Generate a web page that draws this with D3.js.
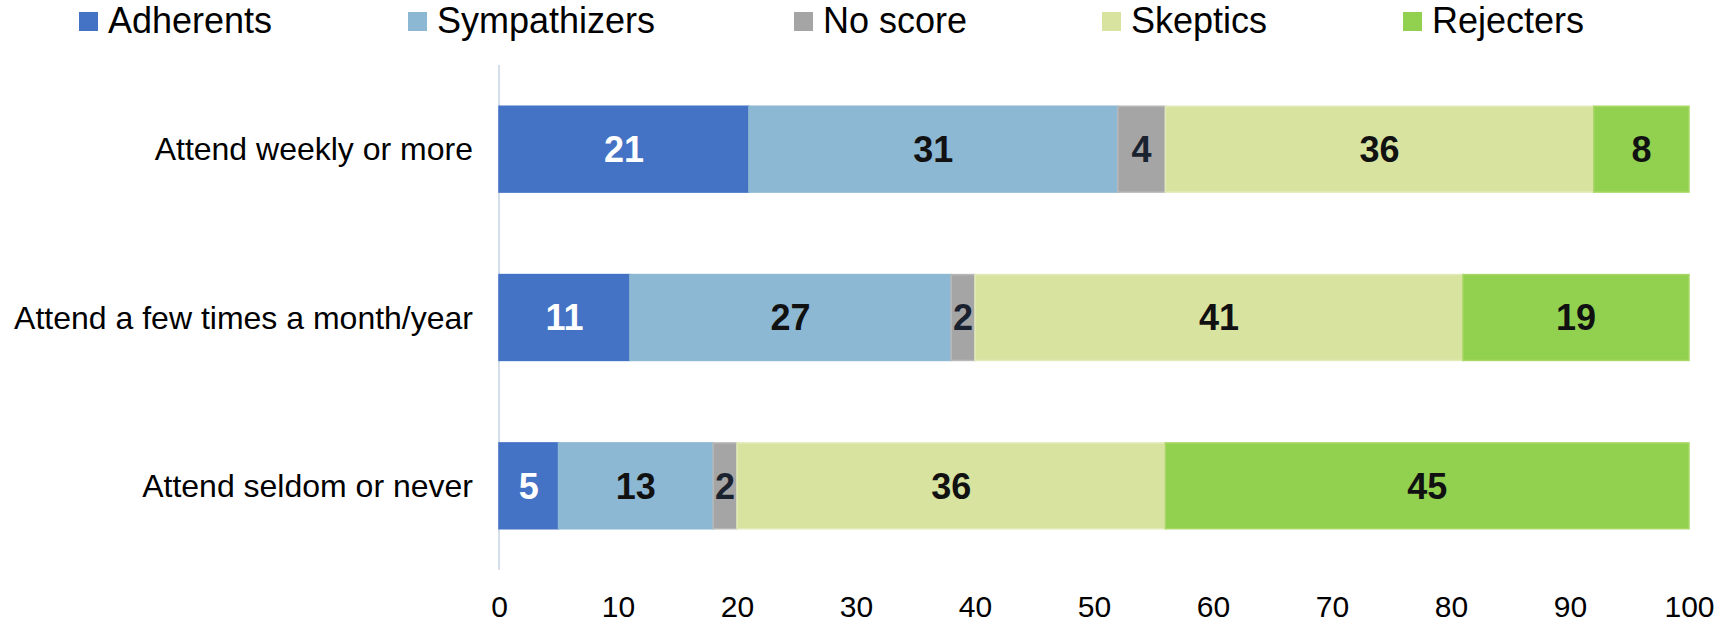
<!DOCTYPE html>
<html>
<head>
<meta charset="utf-8">
<script src="https://cdn.jsdelivr.net/npm/d3@7"></script>
<style>
  html, body { margin: 0; padding: 0; background: #fff; }
  svg { display: block; font-family: "Liberation Sans", Arial, sans-serif; }
</style>
</head>
<body>
<svg id="chart" width="1732" height="624"></svg>
<script>
// ---- data ----
const categories = ["Attend weekly or more", "Attend a few times a month/year", "Attend seldom or never"];
const seriesNames = ["Adherents", "Sympathizers", "No score", "Skeptics", "Rejecters"];
const adherents    = [21, 11, 5];
const sympathizers = [31, 27, 13];
const noScore      = [4, 2, 2];
const skeptics     = [36, 41, 36];
const rejecters    = [8, 19, 45];
const xTicks = [0, 10, 20, 30, 40, 50, 60, 70, 80, 90, 100];

// ---- styles / layout ----
const colors = ["#4472C4", "#8DB8D3", "#A5A5A5", "#D8E3A0", "#92D050"];
const strokes = ["#4472C4", "#8DB8D3", "#B8B8B8", "#E3EAB9", "#A9D866"];
const labelColors = ["#ffffff", "#111111", "#1a2230", "#111111", "#111111"];
const legendX = [79, 408, 794, 1102, 1403];

const svg = d3.select("#chart");

const seriesValues = [adherents, sympathizers, noScore, skeptics, rejecters];
const table = categories.map((c, i) => {
  const row = { category: c };
  seriesNames.forEach((s, j) => row[s] = seriesValues[j][i]);
  return row;
});
const stacked = d3.stack().keys(seriesNames)(table);

const x = d3.scaleLinear().domain([0, 100]).range([499, 1689]).clamp(true);
const y = d3.scaleBand().domain(categories).range([65, 570]).paddingInner(0.49).paddingOuter(0.245);

// axis line (vertical, category axis)
svg.append("line")
  .attr("x1", x(0)).attr("x2", x(0))
  .attr("y1", 65).attr("y2", 570)
  .attr("stroke", "#D6DEEB").attr("stroke-width", 2);

// bars
const groups = svg.append("g").selectAll("g")
  .data(stacked).join("g")
  .attr("fill", (d, i) => colors[i])
  .attr("stroke", (d, i) => strokes[i]);

groups.selectAll("rect")
  .data(d => d.map(v => ({ v, key: d.key })))
  .join("rect")
  .attr("x", d => x(d.v[0]))
  .attr("y", d => y(d.v.data.category))
  .attr("width", d => x(d.v[1]) - x(d.v[0]))
  .attr("height", y.bandwidth())
  .attr("stroke-width", 1.5);

// labels
stacked.forEach((s, i) => {
  svg.append("g").selectAll("text")
    .data(s).join("text")
    .attr("x", d => (x(d[0]) + x(d[1])) / 2)
    .attr("y", d => y(d.data.category) + y.bandwidth() / 2)
    .attr("dy", "0.36em")
    .attr("text-anchor", "middle")
    .attr("font-weight", "bold")
    .attr("font-size", 36)
    .attr("fill", labelColors[i])
    .text(d => d.data[s.key]);
});

// category labels
const yAxis = svg.append("g").attr("transform", `translate(${x(0) - 26},0)`)
  .call(d3.axisLeft(y).tickSize(0).tickPadding(0));
yAxis.select(".domain").remove();
yAxis.selectAll("text")
  .attr("font-size", 32).attr("fill", "#000")
  .attr("font-family", "'Liberation Sans', Arial, sans-serif")
  .attr("dy", "0.35em");

// x axis tick labels
const xAxis = svg.append("g").attr("transform", `translate(0,${617})`)
  .call(d3.axisBottom(x).tickValues(xTicks).tickSize(0).tickPadding(0));
xAxis.select(".domain").remove();
xAxis.selectAll("text")
  .attr("font-size", 30).attr("fill", "#000")
  .attr("font-family", "'Liberation Sans', Arial, sans-serif")
  .attr("y", 0)
  .attr("dy", "0");

// legend
const legend = svg.append("g").selectAll("g")
  .data(seriesNames).join("g")
  .attr("transform", (d, i) => `translate(${legendX[i]},0)`);
legend.append("rect")
  .attr("x", 0).attr("y", 12).attr("width", 19).attr("height", 19)
  .attr("fill", (d, i) => colors[i]);
legend.append("text")
  .attr("x", 29).attr("y", 33)
  .attr("font-size", 36).attr("fill", "#000")
  .text(d => d);
</script>
</body>
</html>
